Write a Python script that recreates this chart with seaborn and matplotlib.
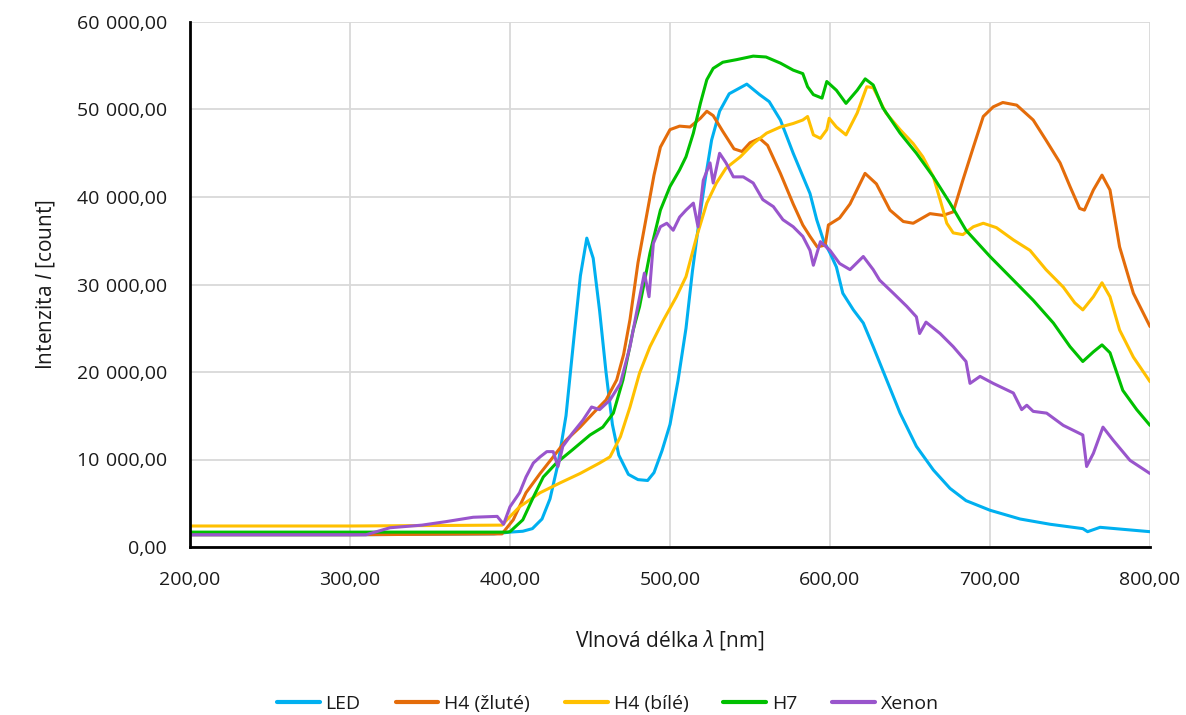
import matplotlib
matplotlib.use("Agg")
import matplotlib.pyplot as plt
from matplotlib.ticker import FuncFormatter
import seaborn as sns
import pandas as pd

# ---------------- data ----------------
series_names = ["LED", "H4 (žluté)", "H4 (bílé)", "H7", "Xenon"]
series_colors = ["#00B0F0", "#E46C0A", "#FFC000", "#00C000", "#9955CC"]

led_wl = [200, 300, 390, 400, 408, 414, 420, 425, 430, 435, 440, 444, 448, 452, 456, 460, 464, 468, 474, 480,
          486, 490, 495, 500, 505, 510, 514, 518, 522, 526, 531, 537, 548, 556, 562, 569, 577, 587.5, 591.7, 596,
          600, 604, 608, 614.6, 620.8, 627, 635.4, 643.8, 654, 664.6, 675, 685, 700, 718.8, 737.5, 758, 761, 768.8, 800]
led_val = [1400, 1400, 1500, 1700, 1800, 2100, 3200, 5500, 9500, 15000, 24000, 31000, 35300, 33000, 27000, 20000,
           14000, 10500, 8300, 7700, 7600, 8500, 11000, 14000, 19000, 25000, 31500, 37000, 42000, 46500, 49800,
           51800, 52900, 51700, 50900, 48800, 45000, 40400, 37400, 35000, 33600, 32000, 29000, 27100, 25600, 22900,
           19100, 15300, 11500, 8800, 6700, 5300, 4200, 3200, 2600, 2100, 1750, 2250, 1750]

h4y_wl = [200, 300, 395, 402, 410, 418.8, 427, 435, 443.8, 452, 460, 466.7, 471, 475, 480, 485, 490, 494, 500, 506,
          512.5, 519, 523, 527, 533, 540, 545, 550, 556, 561, 569, 577, 583, 587.5, 592, 597, 599, 606, 612.5, 621.9,
          629, 637.5, 645.8, 652, 662.5, 670.6, 677, 683, 689.6, 695.8, 702, 708, 716.7, 727, 735, 743.8, 750, 756,
          759, 764.6, 770, 775, 781, 789.6, 800]
h4y_val = [1400, 1400, 1500, 3100, 6200, 8400, 10300, 12200, 13700, 15300, 16800, 19100, 22000, 26000, 32500, 37500,
           42500, 45700, 47700, 48100, 48000, 49000, 49800, 49300, 47500, 45500, 45200, 46200, 46700, 45900, 42700,
           39200, 36800, 35500, 34300, 34500, 36800, 37600, 39200, 42700, 41500, 38500, 37200, 37000, 38100, 37900,
           38300, 41900, 45700, 49200, 50300, 50800, 50500, 48800, 46500, 43900, 41200, 38700, 38500, 40800, 42500,
           40800, 34300, 29000, 25200]

h4w_wl = [200, 300, 395, 398, 406, 418.8, 431, 443.8, 456, 462.5, 469, 475, 481, 487.5, 495.8, 504, 510, 516.7, 523,
          529, 535, 544, 552, 560.4, 569, 577, 583, 586, 589.6, 594, 598, 599.5, 604, 610, 617, 623, 627, 635, 643.8,
          652, 658, 664.6, 668.8, 673, 677, 683, 689.6, 695.8, 704, 714.6, 725, 735, 745.8, 753, 758, 764.6, 770,
          775, 781, 789.6, 800]
h4w_val = [2400, 2400, 2500, 3100, 4600, 6200, 7300, 8400, 9600, 10300, 12600, 16000, 19900, 22900, 25900, 28600,
           30900, 35500, 39300, 41600, 43300, 44600, 46100, 47300, 48000, 48400, 48800, 49200, 47100, 46700, 47700,
           49000, 48000, 47100, 49600, 52600, 52500, 49600, 47700, 46100, 44600, 42300, 39700, 37000, 35900, 35700,
           36600, 37000, 36500, 35100, 33900, 31700, 29700, 27900, 27100, 28600, 30200, 28600, 24800, 21700, 18900]

h7_wl = [200, 300, 398, 400, 408, 414.6, 420.8, 429, 439, 450, 458, 464.6, 470.6, 477, 481, 487.5, 494, 500, 506,
         510, 514.6, 519, 523, 527, 533, 541.7, 552, 560, 569, 577, 583, 586, 589.6, 595, 598, 604, 610, 617, 622,
         627, 633, 643.8, 654, 664.6, 675, 685, 700, 714.6, 727, 739.6, 750, 758, 764.6, 770, 775, 783, 791.7, 800]
h7_val = [1700, 1700, 1700, 1750, 3100, 5700, 8000, 9600, 11100, 12800, 13700, 15300, 19100, 24800, 27500, 33600,
          38500, 41200, 43100, 44600, 47300, 50700, 53400, 54700, 55400, 55700, 56100, 56000, 55300, 54500, 54100,
          52600, 51700, 51300, 53200, 52200, 50700, 52200, 53500, 52800, 50200, 47300, 45000, 42300, 39300, 36200,
          33200, 30500, 28200, 25600, 22900, 21200, 22300, 23100, 22200, 17900, 15700, 13900]

xe_wl = [200, 310, 325, 345, 360, 377, 392, 396, 400, 406, 410, 414.6, 418.8, 423, 427, 430, 433, 439, 445.6, 451,
         456, 462.5, 469, 475, 479, 484, 486.9, 489.6, 494, 498, 502, 506, 510, 514.6, 517.5, 520.8, 525, 527, 531,
         535, 539.6, 545.8, 552, 558, 564.6, 570.6, 577, 583, 587.5, 589.6, 594, 600, 606, 612.5, 620.8, 627, 631,
         639.6, 648, 654, 656, 660, 668.8, 677, 685, 687.5, 693.8, 702, 714.6, 719.8, 723, 727, 735.4, 745.8, 758,
         760.4, 764.6, 770.6, 777, 787.5, 800]
xe_val = [1400, 1400, 2200, 2500, 2900, 3400, 3500, 2600, 4600, 6200, 8000, 9600, 10300, 10900, 10900, 9200, 11500,
          13000, 14500, 16000, 15700, 16800, 18700, 22900, 26700, 31300, 28600, 34700, 36600, 37000, 36200, 37700,
          38500, 39300, 36600, 41900, 43900, 41600, 45000, 43900, 42300, 42300, 41600, 39700, 38900, 37400, 36600,
          35500, 33900, 32200, 34900, 33900, 32400, 31700, 33200, 31700, 30500, 29000, 27500, 26300, 24400, 25700,
          24400, 22900, 21200, 18700, 19500, 18700, 17600, 15700, 16200, 15500, 15300, 13900, 12800, 9200, 10700,
          13700, 12200, 9900, 8400]

x_ticks = [200, 300, 400, 500, 600, 700, 800]
y_ticks = [0, 10000, 20000, 30000, 40000, 50000, 60000]

# ---------------- table ----------------
frames = []
for name, wl, val in zip(series_names,
                         [led_wl, h4y_wl, h4w_wl, h7_wl, xe_wl],
                         [led_val, h4y_val, h4w_val, h7_val, xe_val]):
    frames.append(pd.DataFrame({"wl": wl, "val": val, "series": name}))
df = pd.concat(frames, ignore_index=True)

# ---------------- style ----------------
sns.set_theme(style="white")
plt.rcParams["font.family"] = ["Open Sans", "DejaVu Sans"]
plt.rcParams["mathtext.fontset"] = "custom"
plt.rcParams["mathtext.it"] = "Open Sans:italic"
plt.rcParams["mathtext.rm"] = "Open Sans"

fig = plt.figure(figsize=(11.86, 7.15), dpi=100)
ax = fig.add_axes([190 / 1186, 1 - 547 / 715, 960 / 1186, 525 / 715])

sns.lineplot(data=df, x="wl", y="val", hue="series", hue_order=series_names,
             palette=dict(zip(series_names, series_colors)), estimator=None, sort=False,
             linewidth=2.2, ax=ax, legend=False)

ax.set_xlim(200, 800)
ax.set_ylim(0, 60000)
ax.set_xticks(x_ticks)
ax.set_yticks(y_ticks)


def fmt(v, pos=None):
    s = f"{v:,.2f}"
    return s.replace(",", "\u2004").replace(".", ",")


ax.xaxis.set_major_formatter(FuncFormatter(fmt))
ax.yaxis.set_major_formatter(FuncFormatter(fmt))
ax.grid(True, color="#D9D9D9", linewidth=1.3)
ax.set_axisbelow(True)
for s in ["top", "right"]:
    ax.spines[s].set_visible(False)
for s in ["left", "bottom"]:
    ax.spines[s].set_color("black")
    ax.spines[s].set_linewidth(2)
ax.tick_params(axis="both", which="major", direction="inout", length=9, width=2,
               colors="black", labelsize=14, labelcolor="#1a1a1a")
ax.tick_params(axis="x", pad=13)
ax.tick_params(axis="y", pad=12)

ax.set_xlabel(r"Vlnová délka $\lambda$ [nm]", fontsize=15, color="#1a1a1a", labelpad=28)
ax.set_ylabel(r"Intenzita $I$ [count]", fontsize=15, color="#1a1a1a", labelpad=14)

handles = [plt.Line2D([0], [0], color=c, linewidth=3) for c in series_colors]
fig.legend(handles, series_names, loc="center", bbox_to_anchor=(608 / 1186, 1 - 704 / 715),
           ncol=5, frameon=False, fontsize=14, handlelength=2.2, handletextpad=0.3,
           columnspacing=1.8, labelcolor="#1a1a1a")

fig.savefig("out.png", dpi=100)
